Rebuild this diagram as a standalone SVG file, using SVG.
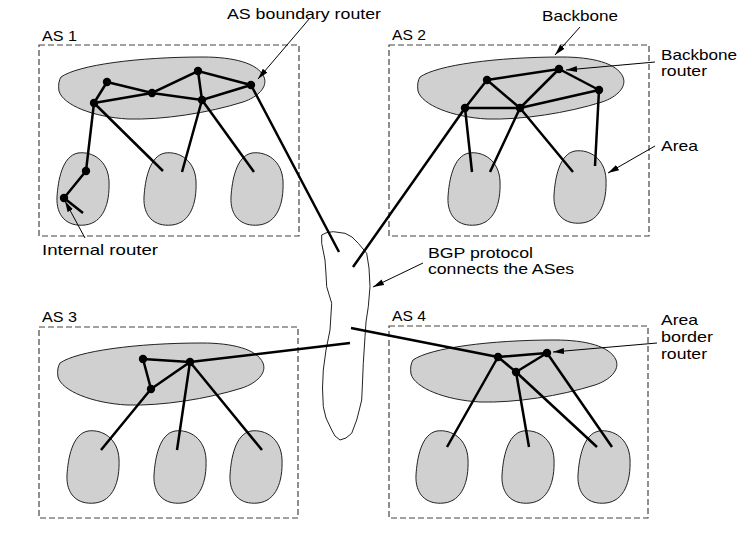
<svg xmlns="http://www.w3.org/2000/svg" width="754" height="537" viewBox="0 0 754 537">
<style>
.box{fill:none;stroke:#444;stroke-width:1.2;stroke-dasharray:6 3}
.blob{fill:#d0d0d0;stroke:#222;stroke-width:1}
.cloud{fill:#fff;stroke:#222;stroke-width:1;stroke-linejoin:round}
.ln{stroke:#000;stroke-width:2.5;stroke-linecap:butt;fill:none}
.r{fill:#000}
.ptr{stroke:#000;stroke-width:1;fill:none;marker-end:url(#ah)}
text{font-family:"Liberation Sans",Arial,sans-serif;font-size:15px;fill:#000}
</style>
<defs>
<marker id="ah" markerUnits="userSpaceOnUse" markerWidth="12" markerHeight="8" refX="11" refY="4" orient="auto">
<path d="M0,1 L11,4 L0,7 Z" fill="#000"/>
</marker>
<path id="bb" d="M3,22 C20,10 80,2 145,2 C175,2 200,8 206,22 C210,32 200,42 185,47 C150,58 105,65 70,64 C35,62 5,50 1,36 C0,30 1,25 3,22 Z"/>
<path id="ar" d="M22,1 C37,-1 52,9 53,29 C54,52 47,71 29,73 C11,75 0,64 1,45 C2,29 6,4 22,1 Z"/>
</defs>
<rect width="754" height="537" fill="#fff"/>

<g id="bgp-cloud">
<path class="cloud" d="M321.7,235 L327,232.5 L333.3,231.7 L345,233.3 L352,237 L358.3,243.3 L366.7,253.3 L369,268 L370,286.7 L368.3,306.7 L366,322 L365,336.7 L363.3,363.3 L362.5,382 L361.7,400 L359,411 L356.7,420 L351.7,433.3 L346,438 L340,440 L335,436 L331.7,430 L326,418 L323.3,406.7 L322.5,388 L323.3,370 L326,350 L330,330 L331.7,303.3 L326.7,286.7 L326,274 L325,260 L321.7,243.3 Z"/>
</g>

<g id="as1">
<rect class="box" x="39" y="45" width="260" height="191"/>
<use href="#bb" class="blob" transform="translate(58,55)"/>
<use href="#ar" class="blob" transform="translate(56,152)"/>
<use href="#ar" class="blob" transform="translate(143,152)"/>
<use href="#ar" class="blob" transform="translate(230,152)"/>
</g>
<g id="as2">
<rect class="box" x="389" y="45" width="260" height="191"/>
<use href="#bb" class="blob" transform="translate(417,55)"/>
<use href="#ar" class="blob" transform="translate(447,152)"/>
<use href="#ar" class="blob" transform="translate(553,150)"/>
</g>
<g id="as3">
<rect class="box" x="39" y="327" width="259" height="191"/>
<use href="#bb" class="blob" transform="translate(57,341)"/>
<use href="#ar" class="blob" transform="translate(66,430)"/>
<use href="#ar" class="blob" transform="translate(153,430)"/>
<use href="#ar" class="blob" transform="translate(229,430)"/>
</g>
<g id="as4">
<rect class="box" x="389" y="326" width="259" height="192"/>
<use href="#bb" class="blob" transform="translate(410,338)"/>
<use href="#ar" class="blob" transform="translate(415,430)"/>
<use href="#ar" class="blob" transform="translate(501,430)"/>
<use href="#ar" class="blob" transform="translate(577,430)"/>
</g>

<g id="connectors" class="ln">
<path d="M107,82 L94,103 M107,82 L152,93 L198,71 L251,85 M198,71 L202,100 M94,103 L152,93 L202,100 L251,85 M94,103 L86,171 L64,198 L83,213 M94,103 L163,171 M202,100 L182,172 M202,100 L254,172 M251,85 L339,252"/>
<path d="M487,80 L559,69 L599,90 M487,80 L465,108 L520,108 L487,80 M520,108 L559,69 M520,108 L599,90 M465,108 L472,172 M520,108 L490,172 M520,108 L573,172 M599,90 L595,166 M465,108 L353,267"/>
<path d="M143,359 L190,362 L151,389 Z M190,362 L350,343 M151,389 L101,450 M190,362 L177,450 M190,362 L262,450"/>
<path d="M498,357 L547,353 L516,372 Z M351,328 L498,357 M498,357 L447,447 M516,372 L529,447 M516,372 L597,447 M547,353 L612,447"/>
</g>

<g id="routers" class="r">
<circle cx="107" cy="82" r="4.2"/><circle cx="198" cy="71" r="4.2"/><circle cx="152" cy="93" r="4.2"/><circle cx="251" cy="85" r="4.2"/><circle cx="94" cy="103" r="4.2"/><circle cx="202" cy="100" r="4.2"/><circle cx="86" cy="171" r="4.2"/><circle cx="64" cy="198" r="4.2"/>
<circle cx="487" cy="80" r="4.2"/><circle cx="559" cy="69" r="4.2"/><circle cx="599" cy="90" r="4.2"/><circle cx="465" cy="108" r="4.2"/><circle cx="520" cy="108" r="4.2"/>
<circle cx="143" cy="359" r="4.2"/><circle cx="190" cy="362" r="4.2"/><circle cx="151" cy="389" r="4.2"/>
<circle cx="498" cy="357" r="4.2"/><circle cx="547" cy="353" r="4.2"/><circle cx="516" cy="372" r="4.2"/>
</g>

<g id="pointers">
<line class="ptr" x1="310" y1="18" x2="258" y2="79"/>
<line class="ptr" x1="85" y1="238" x2="65" y2="201"/>
<line class="ptr" x1="580" y1="27" x2="555" y2="55"/>
<line class="ptr" x1="655" y1="62" x2="566" y2="70"/>
<line class="ptr" x1="655" y1="146" x2="608" y2="173"/>
<line class="ptr" x1="657" y1="343" x2="553" y2="352"/>
<line class="ptr" x1="423" y1="263" x2="373" y2="287"/>
</g>

<g id="labels">
<text x="42" y="41" textLength="35" lengthAdjust="spacingAndGlyphs">AS 1</text>
<text x="392" y="40" textLength="34" lengthAdjust="spacingAndGlyphs">AS 2</text>
<text x="42" y="322" textLength="35" lengthAdjust="spacingAndGlyphs">AS 3</text>
<text x="392" y="321" textLength="34" lengthAdjust="spacingAndGlyphs">AS 4</text>
<text x="227" y="19" textLength="154" lengthAdjust="spacingAndGlyphs">AS boundary router</text>
<text x="42" y="255" textLength="116" lengthAdjust="spacingAndGlyphs">Internal router</text>
<text x="542" y="21" textLength="76" lengthAdjust="spacingAndGlyphs">Backbone</text>
<text x="661" y="60" textLength="76" lengthAdjust="spacingAndGlyphs">Backbone</text>
<text x="661" y="76" textLength="46" lengthAdjust="spacingAndGlyphs">router</text>
<text x="661" y="151" textLength="37" lengthAdjust="spacingAndGlyphs">Area</text>
<text x="428" y="258" textLength="105" lengthAdjust="spacingAndGlyphs">BGP protocol</text>
<text x="428" y="274" textLength="146" lengthAdjust="spacingAndGlyphs">connects the ASes</text>
<text x="661" y="325" textLength="37" lengthAdjust="spacingAndGlyphs">Area</text>
<text x="661" y="342" textLength="52" lengthAdjust="spacingAndGlyphs">border</text>
<text x="661" y="359" textLength="46" lengthAdjust="spacingAndGlyphs">router</text>
</g>
</svg>
